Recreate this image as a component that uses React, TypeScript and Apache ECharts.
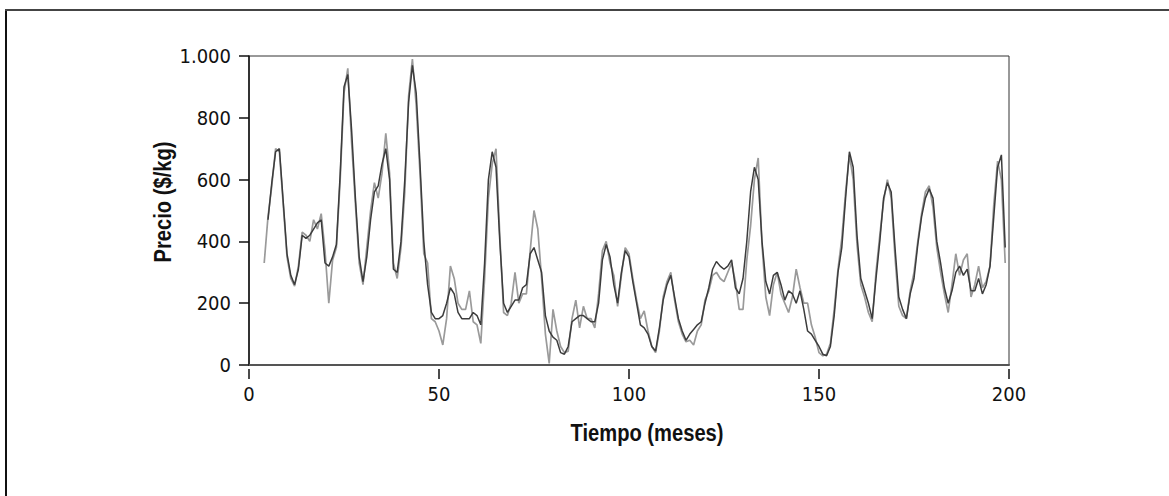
import React, { useEffect, useRef } from "react";
import * as echarts from "echarts";

// Months at which each series starts (monthly values follow)
const lightStartMonth = 4;
const darkStartMonth = 5;

// Light grey series, months 4..199
const lightValues = [
  330, 480, 580, 700, 690, 520, 350, 280, 255, 320,
  430, 420, 400, 470, 440, 490, 370, 200, 340, 380,
  600, 880, 960, 720, 520, 330, 260, 380, 500, 590,
  540, 620, 750, 620, 330, 280, 380, 560, 870, 990,
  840, 620, 360, 330, 150, 140, 110, 65, 150, 320,
  280, 200, 180, 180, 240, 140, 130, 70, 280, 540,
  650, 700, 420, 170, 160, 200, 300, 200, 230, 230,
  370, 500, 440, 280, 100, 5, 180, 110, 60, 40,
  45, 150, 210, 120, 190, 150, 150, 120, 230, 370,
  400, 330, 290, 190, 290, 380, 360, 280, 210, 150,
  175, 110, 60, 40, 110, 220, 270, 300, 210, 140,
  100, 75, 80, 65, 110, 130, 210, 240, 290, 300,
  280, 270, 300, 330, 270, 180, 180, 340, 450, 600,
  670, 390, 220, 160, 260, 300, 230, 200, 170, 220,
  310, 250, 200, 200, 130, 90, 40, 30, 35, 70,
  180, 310, 410, 560, 680, 600, 390, 260, 220, 170,
  140, 300, 420, 530, 600, 540, 350, 190, 160, 150,
  240, 300, 400, 490, 560, 580, 510, 380, 300, 230,
  170, 260, 360, 290, 340, 360, 220, 260, 320, 250,
  270, 320, 520, 660, 600, 330,
];

// Dark grey series, months 5..199
const darkValues = [
  470, 590, 690, 700, 530, 360, 290, 260, 310, 420,
  410, 420, 440, 460, 470, 330, 320, 350, 390, 620,
  900, 940, 760, 540, 350, 270, 350, 470, 560, 580,
  650, 700, 600, 310, 300, 400, 600, 850, 970, 880,
  650, 400, 260, 170, 150, 150, 160, 200, 250, 230,
  170, 150, 150, 150, 170, 160, 130, 330, 600, 690,
  640, 400, 200, 170, 190, 210, 210, 250, 260, 360,
  380, 340, 300, 160, 110, 90, 80, 40, 35, 60,
  140, 150, 160, 160, 150, 140, 140, 200, 340, 390,
  350, 260, 200, 300, 370, 350, 270, 200, 130, 120,
  100, 60, 45, 120, 210, 260, 290, 220, 150, 110,
  80, 100, 115, 130, 140, 200, 250, 310, 335, 320,
  310, 320, 340, 250, 230, 280, 400, 560, 640, 600,
  400, 270, 230, 290, 300, 260, 210, 240, 230, 200,
  240, 180, 110, 100, 80, 60, 35, 30, 60, 160,
  300, 380, 540, 690, 640, 420, 280, 240, 200, 150,
  280, 400, 540, 590, 560, 380, 220, 180, 150, 230,
  280, 390, 480, 540, 570, 540, 400, 330, 250, 200,
  240, 300, 320, 290, 310, 240, 240, 280, 230, 260,
  320, 480, 640, 680, 380,
];

const xTicks = [0, 50, 100, 150, 200];
const yTicks = [0, 200, 400, 600, 800, 1000];
const xTitle = "Tiempo (meses)";
const yTitle = "Precio ($/kg)";

const TICK_FONT = '"DejaVu Sans Condensed", "Liberation Sans", sans-serif';
const TITLE_FONT = '"Liberation Sans", Arial, sans-serif';

function toPairs(start: number, vals: number[]) {
  return vals.map((v, i) => [start + i, v]);
}

function fmtThousands(v: number) {
  return String(v).replace(/\B(?=(\d{3})+(?!\d))/g, ".");
}

export default function App() {
  const ref = useRef<HTMLDivElement>(null);
  useEffect(() => {
    if (!ref.current) return;
    const chart = echarts.init(ref.current, undefined, { renderer: "svg" });
    const xMin = xTicks[0];
    const xMax = xTicks[xTicks.length - 1];
    const xInt = xTicks[1] - xTicks[0];
    const yMin = yTicks[0];
    const yMax = yTicks[yTicks.length - 1];
    const yInt = yTicks[1] - yTicks[0];
    chart.setOption({
      animation: false,
      backgroundColor: "#ffffff",
      grid: {
        left: 249,
        right: 160,
        top: 56,
        bottom: 131,
        show: true,
        borderColor: "#333",
        borderWidth: 1,
        backgroundColor: "transparent",
      },
      xAxis: [
        {
          type: "value",
          min: xMin,
          max: xMax,
          interval: xInt,
          position: "bottom",
          axisLine: { show: true, lineStyle: { color: "#555", width: 2 } },
          axisTick: { show: false },
          axisLabel: { show: false },
          splitLine: { show: false },
        },
        {
          type: "value",
          min: xMin,
          max: xMax,
          interval: xInt,
          position: "bottom",
          offset: 4,
          axisLine: { show: false },
          axisTick: { show: true, length: 10, lineStyle: { color: "#111", width: 1.5 } },
          axisLabel: {
            show: true,
            margin: 15,
            color: "#111",
            fontSize: 20,
            fontFamily: TICK_FONT,
          },
          splitLine: { show: false },
        },
      ],
      yAxis: {
        type: "value",
        min: yMin,
        max: yMax,
        interval: yInt,
        axisLine: { show: true, lineStyle: { color: "#111", width: 1.5 } },
        axisTick: { show: true, length: 10, lineStyle: { color: "#111", width: 1.5 } },
        axisLabel: {
          margin: 18,
          color: "#111",
          fontSize: 20,
          fontFamily: TICK_FONT,
          formatter: (v: number) => fmtThousands(v),
        },
        splitLine: { show: false },
      },
      graphic: [
        {
          type: "line",
          shape: { x1: 6, y1: 9, x2: 6, y2: 496 },
          style: { stroke: "#111", lineWidth: 2 },
        },
        {
          type: "line",
          shape: { x1: 5, y1: 10, x2: 1169, y2: 10 },
          style: { stroke: "#444", lineWidth: 2 },
        },
        {
          type: "text",
          x: 647,
          y: 433,
          scaleX: 0.84,
          style: {
            text: xTitle,
            fontSize: 24,
            fontWeight: "bold",
            fontFamily: TITLE_FONT,
            fill: "#111",
            align: "center",
            verticalAlign: "middle",
          },
        },
        {
          type: "text",
          x: 163,
          y: 202,
          rotation: Math.PI / 2,
          scaleX: 0.84,
          style: {
            text: yTitle,
            fontSize: 24,
            fontWeight: "bold",
            fontFamily: TITLE_FONT,
            fill: "#111",
            align: "center",
            verticalAlign: "middle",
          },
        },
      ],
      series: [
        {
          name: "Serie clara",
          type: "line",
          xAxisIndex: 0,
          data: toPairs(lightStartMonth, lightValues),
          showSymbol: false,
          symbol: "none",
          lineStyle: { color: "#9a9a9a", width: 1.7 },
          z: 2,
        },
        {
          name: "Serie oscura",
          type: "line",
          xAxisIndex: 0,
          data: toPairs(darkStartMonth, darkValues),
          showSymbol: false,
          symbol: "none",
          lineStyle: { color: "#3c3c3c", width: 1.5 },
          z: 3,
        },
      ],
    });
    return () => chart.dispose();
  }, []);
  return (
    <div
      ref={ref}
      style={{ position: "fixed", left: 0, top: 0, width: 1169, height: 496, background: "#fff" }}
    />
  );
}
